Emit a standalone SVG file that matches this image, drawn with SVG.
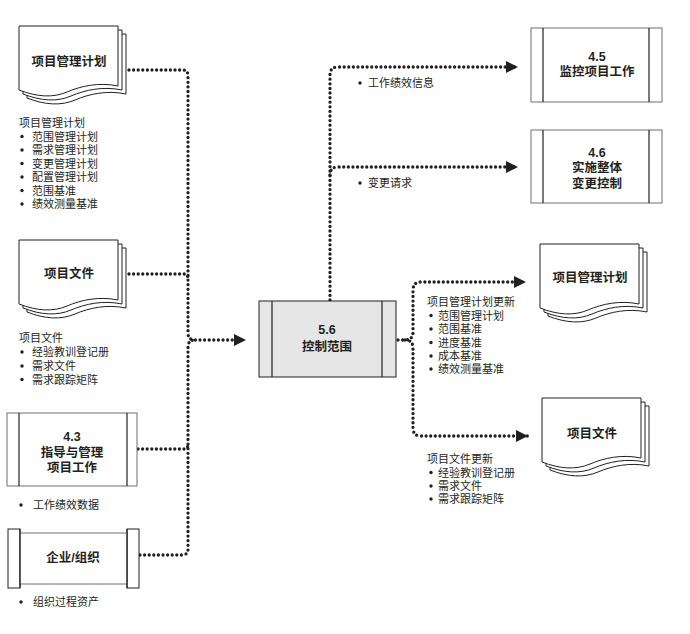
<svg xmlns="http://www.w3.org/2000/svg" width="690" height="634" viewBox="0 0 690 634">
<style>
  .bg{fill:#ffffff}
  .doc use{fill:#ffffff;stroke:#231f20;stroke-width:1}
  .box{fill:#ffffff;stroke:#6d6e70;stroke-width:1}
  .gbox{fill:#e6e6e6;stroke:#231f20;stroke-width:1}
  .inner{stroke:#231f20;stroke-width:1.2;fill:none}
  .lbl{font-family:"Liberation Sans","Noto Sans CJK SC",sans-serif;font-size:12.5px;font-weight:bold;fill:#231f20;text-anchor:middle}
  .lst{font-family:"Noto Sans CJK SC",sans-serif;font-size:11px;fill:#231f20}
  .dot{fill:#231f20}
  .con{fill:none;stroke:#231f20;stroke-width:3.3;stroke-linecap:round;stroke-dasharray:0 4.6}
</style>
<defs>
  <marker id="ah" viewBox="0 0 12 12" refX="12" refY="6" markerWidth="12" markerHeight="12" markerUnits="userSpaceOnUse" orient="auto">
    <path d="M0,0 L12,6 L0,12 Z" fill="#231f20"/>
  </marker>
  <path id="docshape" d="M0,0 H99 V60 C80,56 62,60 48,66 C34,72 18,71 0,64 Z"/>
</defs>
<rect class="bg" x="0" y="0" width="690" height="634"/>

<g id="connectors">
  <path class="con" d="M129,70 H183 Q188,70 188,76 V333 Q188,340 195,340 H246" marker-end="url(#ah)"/>
  <path class="con" d="M129,274 H184 Q188,274 188,279"/>
  <path class="con" d="M138,449 H184 Q188,449 188,444"/>
  <path class="con" d="M140,555 H182 Q188,555 188,549 V347 Q188,340 195,340"/>
  <path class="con" d="M330,300 V75 Q330,67 338,67 H518" marker-end="url(#ah)"/>
  <path class="con" d="M330,175 Q330,167 338,167 H518" marker-end="url(#ah)"/>
  <path class="con" d="M398,340 H405 Q413,340 413,332 V290 Q413,282 421,282 H526" marker-end="url(#ah)"/>
  <path class="con" d="M405,340 Q413,340 413,348 V428 Q413,436 421,436 H528" marker-end="url(#ah)"/>
</g>

<g id="pmp-in" class="doc">
  <use href="#docshape" x="27" y="34"/>
  <use href="#docshape" x="23" y="30"/>
  <use href="#docshape" x="19" y="26"/>
  <text class="lbl" x="69" y="66">项目管理计划</text>
</g>
<g id="pmp-in-list">
  <text class="lst" x="19" y="127">项目管理计划</text>
  <circle class="dot" cx="22" cy="136.5" r="1.7"/><text class="lst" x="32" y="140.5">范围管理计划</text>
  <circle class="dot" cx="22" cy="150" r="1.7"/><text class="lst" x="32" y="154">需求管理计划</text>
  <circle class="dot" cx="22" cy="163.5" r="1.7"/><text class="lst" x="32" y="167.5">变更管理计划</text>
  <circle class="dot" cx="22" cy="177" r="1.7"/><text class="lst" x="32" y="181">配置管理计划</text>
  <circle class="dot" cx="22" cy="190.5" r="1.7"/><text class="lst" x="32" y="194.5">范围基准</text>
  <circle class="dot" cx="22" cy="204" r="1.7"/><text class="lst" x="32" y="208">绩效测量基准</text>
</g>

<g id="pd-in" class="doc">
  <use href="#docshape" x="27" y="248"/>
  <use href="#docshape" x="23" y="244"/>
  <use href="#docshape" x="19" y="240"/>
  <text class="lbl" x="69" y="278">项目文件</text>
</g>
<g id="pd-in-list">
  <text class="lst" x="19" y="342">项目文件</text>
  <circle class="dot" cx="22" cy="352" r="1.7"/><text class="lst" x="32" y="356">经验教训登记册</text>
  <circle class="dot" cx="22" cy="366" r="1.7"/><text class="lst" x="32" y="370">需求文件</text>
  <circle class="dot" cx="22" cy="379.5" r="1.7"/><text class="lst" x="32" y="383.5">需求跟踪矩阵</text>
</g>

<g id="p43">
  <rect class="box" x="7" y="413" width="130" height="73"/>
  <line class="inner" x1="19" y1="413" x2="19" y2="486"/>
  <line class="inner" x1="127" y1="413" x2="127" y2="486"/>
  <text class="lbl" x="72" y="441">4.3</text>
  <text class="lbl" x="72" y="457">指导与管理</text>
  <text class="lbl" x="72" y="472">项目工作</text>
</g>
<g id="p43-list">
  <circle class="dot" cx="21" cy="505" r="1.7"/><text class="lst" x="33" y="509">工作绩效数据</text>
</g>

<g id="ent">
  <rect class="box" x="8" y="529" width="12" height="59" style="stroke:#231f20"/>
  <rect class="box" x="127" y="529" width="12" height="59" style="stroke:#231f20"/>
  <rect class="box" x="20" y="533" width="107" height="51"/>
  <line class="inner" x1="20" y1="529" x2="20" y2="588"/>
  <line class="inner" x1="127" y1="529" x2="127" y2="588"/>
  <text class="lbl" x="73" y="562">企业/组织</text>
</g>
<g id="ent-list">
  <circle class="dot" cx="21" cy="602" r="1.7"/><text class="lst" x="33" y="606">组织过程资产</text>
</g>

<g id="p56">
  <rect class="gbox" x="259" y="301" width="137" height="76"/>
  <line class="inner" x1="272" y1="301" x2="272" y2="377"/>
  <line class="inner" x1="382" y1="301" x2="382" y2="377"/>
  <text class="lbl" x="327" y="334">5.6</text>
  <text class="lbl" x="327" y="351">控制范围</text>
</g>

<g id="p45">
  <rect class="box" x="531" y="28" width="131" height="74"/>
  <line class="inner" x1="543" y1="28" x2="543" y2="102"/>
  <line class="inner" x1="649" y1="28" x2="649" y2="102"/>
  <text class="lbl" x="597" y="61">4.5</text>
  <text class="lbl" x="597" y="76">监控项目工作</text>
</g>
<g id="p45-label">
  <circle class="dot" cx="360" cy="83" r="1.7"/><text class="lst" x="368" y="87">工作绩效信息</text>
</g>

<g id="p46">
  <rect class="box" x="531" y="130" width="131" height="73"/>
  <line class="inner" x1="543" y1="130" x2="543" y2="203"/>
  <line class="inner" x1="649" y1="130" x2="649" y2="203"/>
  <text class="lbl" x="597" y="157">4.6</text>
  <text class="lbl" x="597" y="172">实施整体</text>
  <text class="lbl" x="597" y="188">变更控制</text>
</g>
<g id="p46-label">
  <circle class="dot" cx="360" cy="183" r="1.7"/><text class="lst" x="368" y="187">变更请求</text>
</g>

<g id="pmp-out" class="doc">
  <use href="#docshape" x="548" y="252"/>
  <use href="#docshape" x="544" y="248"/>
  <use href="#docshape" x="540" y="244"/>
  <text class="lbl" x="590" y="282">项目管理计划</text>
</g>
<g id="pmp-out-list">
  <text class="lst" x="427" y="306">项目管理计划更新</text>
  <circle class="dot" cx="431" cy="315.5" r="1.7"/><text class="lst" x="438" y="319.5">范围管理计划</text>
  <circle class="dot" cx="431" cy="329" r="1.7"/><text class="lst" x="438" y="333">范围基准</text>
  <circle class="dot" cx="431" cy="342.5" r="1.7"/><text class="lst" x="438" y="346.5">进度基准</text>
  <circle class="dot" cx="431" cy="356" r="1.7"/><text class="lst" x="438" y="360">成本基准</text>
  <circle class="dot" cx="431" cy="369" r="1.7"/><text class="lst" x="438" y="373">绩效测量基准</text>
</g>

<g id="pd-out" class="doc">
  <use href="#docshape" x="550" y="406"/>
  <use href="#docshape" x="546" y="402"/>
  <use href="#docshape" x="542" y="398"/>
  <text class="lbl" x="592" y="438">项目文件</text>
</g>
<g id="pd-out-list">
  <text class="lst" x="427" y="463">项目文件更新</text>
  <circle class="dot" cx="431" cy="472.5" r="1.7"/><text class="lst" x="438" y="476.5">经验教训登记册</text>
  <circle class="dot" cx="431" cy="486" r="1.7"/><text class="lst" x="438" y="490">需求文件</text>
  <circle class="dot" cx="431" cy="499" r="1.7"/><text class="lst" x="438" y="503">需求跟踪矩阵</text>
</g>
</svg>
